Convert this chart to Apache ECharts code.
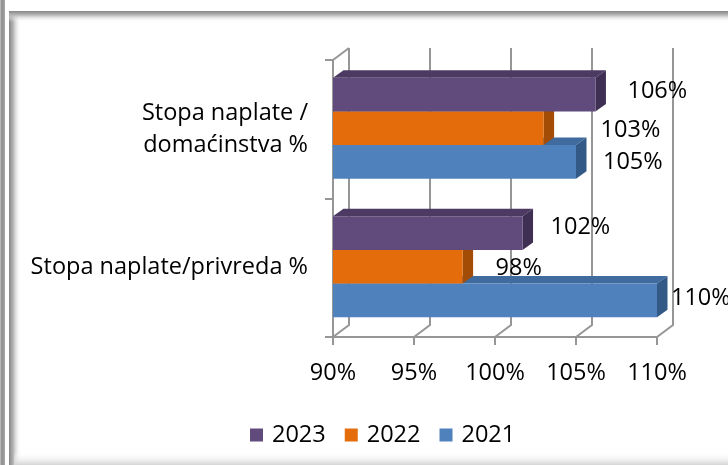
<!DOCTYPE html>
<html>
<head>
    <meta charset="utf-8">
    <title>index</title>
    <style>
        html, body { margin: 0; padding: 0; background: #fff; }
    </style>
</head>
<body>
    <div id="main" style="width:728px;height:465px;"></div>
    <script src="https://cdn.jsdelivr.net/npm/echarts@6/dist/echarts.min.js"></script>
    <script>
        // podaci
        var categories = ['Stopa naplate/privreda %', 'Stopa naplate /\ndomaćinstva %'];
        var years = ['2021', '2022', '2023'];
        var values2021 = [110, 105];
        var values2022 = [98, 103];
        var values2023 = [101.7, 106.2];
        var xTicks = [90, 95, 100, 105, 110];

        // boje: prednja strana, gornja strana, bočna strana
        var faceColors = [
            ['#4f81bd', '#3f6b9e', '#335a87'],
            ['#e46c0a', '#c25a07', '#a34c06'],
            ['#614a7c', '#4c3a63', '#3f3053']
        ];
        // pomak natpisa [dx, dy] od kraja stupca (po seriji, po kategoriji)
        var labelShift = [
            [[14, -2], [27, 0]],
            [[33, 2], [57, 2]],
            [[28, -6], [32, -3]]
        ];
        var DX = 10.5, DY = -7.5;     // dubina stupca
        var WX = 16, WY = -12;        // dubina zidova
        var FONT = '"Open Sans"';
        var FS = 23.5;
        var lineColor = '#969696';

        var myChart = echarts.init(document.getElementById('main'));

        function barRenderer(k) {
            var cols = faceColors[k];
            return function (params, api) {
                var cat = api.value(0);
                var val = api.value(1);
                var start = api.coord([90, cat]);
                var end = api.coord([val, cat]);
                var band = api.size([0, 1])[1];
                var h = band * 0.243;
                var cy = start[1] + (1 - k) * h - 1;
                var y0 = cy - h / 2, y1 = cy + h / 2;
                var x0 = start[0], x1 = end[0];
                var sh = labelShift[k][cat];
                return {
                    type: 'group',
                    children: [
                        {
                            type: 'polygon',
                            shape: { points: [[x0, y0], [x1, y0], [x1 + DX, y0 + DY], [x0 + DX, y0 + DY]] },
                            style: { fill: cols[1] }
                        },
                        {
                            type: 'polygon',
                            shape: { points: [[x1, y0], [x1, y1], [x1 + DX, y1 + DY], [x1 + DX, y0 + DY]] },
                            style: { fill: cols[2] }
                        },
                        {
                            type: 'rect',
                            shape: { x: x0, y: y0, width: x1 - x0, height: h },
                            style: { fill: cols[0] }
                        },
                        {
                            type: 'text',
                            x: x1 + sh[0],
                            y: cy + sh[1],
                            style: {
                                text: Math.round(val) + '%',
                                font: FS + 'px ' + FONT,
                                fill: '#000',
                                align: 'left',
                                verticalAlign: 'middle'
                            }
                        }
                    ]
                };
            };
        }

        // zidovi (pozadinske linije)
        function wallRenderer(params, api) {
            var v = api.value(0);
            var cs = params.coordSys;
            var bottom = cs.y + cs.height, top = cs.y;
            var px = api.coord([v, 0])[0];
            var children = [{
                type: 'polyline',
                shape: { points: [[px, bottom], [px + WX, bottom + WY], [px + WX, top + WY]] },
                style: { stroke: lineColor, lineWidth: 2, fill: null }
            }];
            if (params.dataIndex === 0) {
                children.push({
                    type: 'line',
                    shape: { x1: px, y1: top, x2: px + WX, y2: top + WY },
                    style: { stroke: lineColor, lineWidth: 2 }
                });
            }
            return { type: 'group', children: children };
        }

        var seriesValues = [values2021, values2022, values2023];
        var series = [{
            name: 'wall',
            type: 'custom',
            renderItem: wallRenderer,
            data: xTicks.map(function (v) { return [v]; }),
            encode: { x: 0 },
            silent: true,
            z: 1
        }];
        years.forEach(function (y, k) {
            series.push({
                name: y,
                type: 'custom',
                renderItem: barRenderer(k),
                itemStyle: { color: faceColors[k][0] },
                data: seriesValues[k].map(function (v, i) { return [i, v]; }),
                encode: { x: 1, y: 0 },
                z: 3 + k
            });
        });

        var option = {
            backgroundColor: '#fff',
            animation: false,
            graphic: [
                {
                    type: 'rect', z: -10,
                    shape: { x: 0, y: 0, width: 5, height: 465 },
                    style: {
                        fill: new echarts.graphic.LinearGradient(0, 0, 1, 0, [
                            { offset: 0, color: '#c4c4c4' },
                            { offset: 0.4, color: '#8c8c8c' },
                            { offset: 1, color: '#a8a8a8' }
                        ])
                    }
                },
                {
                    type: 'rect', z: -10,
                    shape: { x: 9, y: 11, width: 12, height: 454 },
                    style: {
                        fill: new echarts.graphic.LinearGradient(0, 0, 1, 0, [
                            { offset: 0, color: '#878787' },
                            { offset: 0.35, color: '#b5b5b5' },
                            { offset: 1, color: 'rgba(255,255,255,0)' }
                        ])
                    }
                },
                {
                    type: 'rect', z: -10,
                    shape: { x: 9, y: 11, width: 719, height: 11 },
                    style: {
                        fill: new echarts.graphic.LinearGradient(0, 0, 0, 1, [
                            { offset: 0, color: '#878787' },
                            { offset: 0.35, color: '#b5b5b5' },
                            { offset: 1, color: 'rgba(255,255,255,0)' }
                        ])
                    }
                },
                {
                    type: 'rect', z: -10,
                    shape: { x: 14, y: 452, width: 714, height: 13 },
                    style: {
                        fill: new echarts.graphic.LinearGradient(0, 0, 0, 1, [
                            { offset: 0, color: 'rgba(255,255,255,0)' },
                            { offset: 1, color: '#d4d4d4' }
                        ])
                    }
                }
            ],
            grid: {
                left: 333,
                right: 71,
                top: 60,
                bottom: 128
            },
            legend: {
                data: ['2023', '2022', '2021'],
                left: 245,
                top: 418,
                icon: 'rect',
                itemWidth: 13,
                itemHeight: 13,
                itemGap: 19,
                textStyle: {
                    fontFamily: FONT,
                    fontSize: FS,
                    color: '#000',
                    padding: [0, 0, 0, 4]
                }
            },
            xAxis: {
                type: 'value',
                min: 90,
                max: 110,
                interval: 5,
                axisLine: { show: true, lineStyle: { color: lineColor, width: 2 } },
                axisTick: { show: true, length: 8, lineStyle: { color: lineColor, width: 2 } },
                splitLine: { show: false },
                axisLabel: {
                    formatter: '{value}%',
                    fontFamily: FONT,
                    fontSize: FS,
                    color: '#000',
                    margin: 24
                }
            },
            yAxis: {
                type: 'category',
                data: categories,
                axisLine: { show: true, lineStyle: { color: lineColor, width: 2 } },
                axisTick: { show: true, length: 8, lineStyle: { color: lineColor, width: 2 } },
                axisLabel: {
                    fontFamily: FONT,
                    fontSize: FS,
                    color: '#000',
                    lineHeight: 32,
                    margin: 25,
                    padding: [8, 0, 0, 0],
                    align: 'right'
                }
            },
            series: series
        };

        myChart.setOption(option);
    </script>
</body>
</html>
